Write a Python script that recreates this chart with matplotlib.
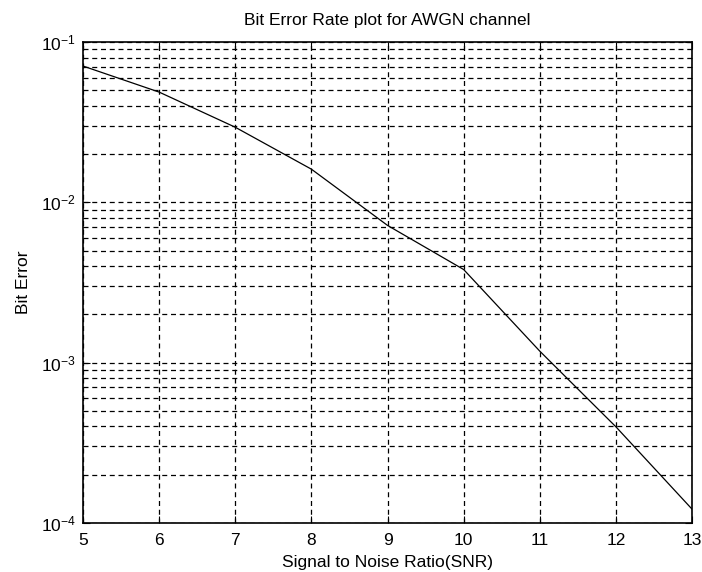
import matplotlib
matplotlib.use("Agg")
import matplotlib.pyplot as plt
from matplotlib.ticker import LogLocator, NullFormatter

plt.rcParams["font.family"] = ["Liberation Sans", "DejaVu Sans"]
plt.rcParams["mathtext.fontset"] = "custom"
plt.rcParams["mathtext.rm"] = "Liberation Sans"
plt.rcParams["mathtext.default"] = "regular"

# BER measured at each SNR point
snr = [5, 6, 7, 8, 9, 10, 11, 12, 13]
ber = [0.0708, 0.0487, 0.0294, 0.0161, 0.00718, 0.00381, 0.00118, 0.000398, 0.000122]

fig = plt.figure(figsize=(7.02, 5.72), dpi=100)
ax = fig.add_axes([0.1182, 0.0857, 0.8676, 0.8409])

ax.semilogy(snr, ber, color="black", linewidth=0.9)

ax.set_xlim(5, 13)
ax.set_ylim(1e-4, 1e-1)
ax.set_xticks(range(5, 14))
ax.yaxis.set_major_locator(LogLocator(base=10, numticks=10))
ax.yaxis.set_minor_locator(LogLocator(base=10, subs=range(2, 10), numticks=20))
ax.yaxis.set_minor_formatter(NullFormatter())

ax.grid(True, which="major", axis="both", color="black", linestyle=(0, (4, 3)), linewidth=0.9)
ax.grid(True, which="minor", axis="y", color="black", linestyle=(0, (4, 3)), linewidth=0.9)

ax.tick_params(which="both", direction="in", top=True, right=True, labelsize=12.5)
ax.tick_params(axis="x", pad=7)
ax.tick_params(axis="y", pad=5)
ax.tick_params(which="major", length=5)
ax.tick_params(which="minor", length=3)
for s in ax.spines.values():
    s.set_linewidth(1.2)

ax.set_title("Bit Error Rate plot for AWGN channel", fontsize=12.5, pad=12)
ax.set_xlabel("Signal to Noise Ratio(SNR)", fontsize=12.5, labelpad=5)
ax.set_ylabel("Bit Error", fontsize=12.5, labelpad=7)

fig.savefig("out.png", dpi=100)
